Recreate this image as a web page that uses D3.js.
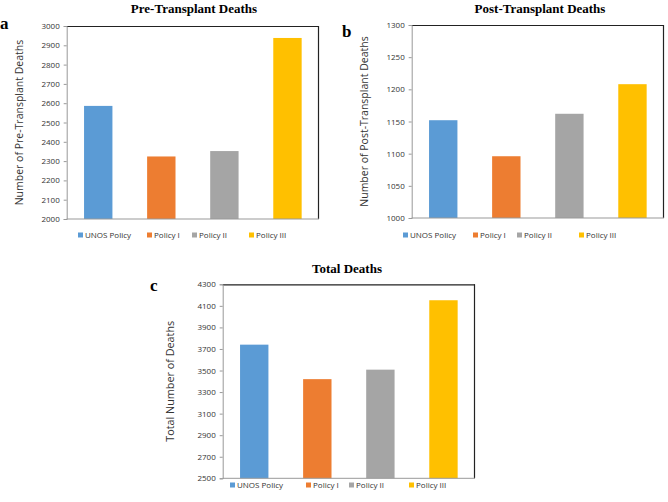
<!DOCTYPE html>
<html><head><meta charset="utf-8">
<script src="https://cdn.jsdelivr.net/npm/d3@7"></script>
<style>body{margin:0;background:#fff}svg{display:block}</style>
</head><body>
<script>
const categories = ["UNOS Policy", "Policy I", "Policy II", "Policy III"];
const colors = ["#5B9BD5", "#ED7D31", "#A5A5A5", "#FFC000"];
const preValues = [2586, 2324, 2352, 2938];
const postValues = [1152, 1096, 1162, 1208];
const totalValues = [3740, 3420, 3508, 4152];
const preTicks = [2000,2100,2200,2300,2400,2500,2600,2700,2800,2900,3000];
const postTicks = [1000,1050,1100,1150,1200,1250,1300];
const totalTicks = [2500,2700,2900,3100,3300,3500,3700,3900,4100,4300];

const svg = d3.select("body").append("svg").attr("width",668).attr("height",502);

const panels = [
  {letter:"a", title:"Pre-Transplant Deaths", ytitle:"Number of Pre-Transplant Deaths", values:preValues, ticks:preTicks,
   x0:66.7, x1:319, y0:26, y1:219, titleX:194, titleY:13, letterX:0, letterY:29, ytX:23, ytSize:10.5, legendY:238, legendX:[78,147,192,249]},
  {letter:"b", title:"Post-Transplant Deaths", ytitle:"Number of Post-Transplant Deaths", values:postValues, ticks:postTicks,
   x0:411.7, x1:664, y0:25, y1:218, titleX:540, titleY:13, letterX:342, letterY:37, ytX:368, ytSize:10.5, legendY:238, legendX:[403,473,517,579]},
  {letter:"c", title:"Total Deaths", ytitle:"Total Number of Deaths", values:totalValues, ticks:totalTicks,
   x0:222.7, x1:475, y0:284.3, y1:478.3, titleX:347, titleY:273, letterX:150, letterY:291, ytX:174, ytSize:10.8, legendY:488, legendX:[230,306,349,409]}
];

panels.forEach(p => {
  const g = svg.append("g");
  const x = d3.scaleBand().domain(categories).range([p.x0, p.x1]).paddingInner(0.55).paddingOuter(0.275);
  const y = d3.scaleLinear().domain([p.ticks[0], p.ticks[p.ticks.length-1]]).range([p.y1, p.y0]);

  g.selectAll("rect.bar").data(categories).join("rect").attr("class","bar")
    .attr("x", d => x(d)).attr("width", x.bandwidth())
    .attr("y", (d,i) => y(p.values[i])).attr("height", (d,i) => p.y1 - y(p.values[i]))
    .attr("fill", (d,i) => colors[i]);

  g.append("line").attr("x1",p.x0).attr("x2",p.x1).attr("y1",p.y0+0.5).attr("y2",p.y0+0.5).attr("stroke","#222").attr("stroke-width",1.2);
  g.append("line").attr("x1",p.x1-0.5).attr("x2",p.x1-0.5).attr("y1",p.y0).attr("y2",p.y1).attr("stroke","#222").attr("stroke-width",1.2);

  const ax = g.append("g").attr("transform",`translate(${p.x0},0)`)
    .call(d3.axisLeft(y).tickValues(p.ticks).tickSize(3).tickPadding(4).tickFormat(d3.format("d")));
  ax.select(".domain").attr("stroke","#999");
  ax.selectAll(".tick line").attr("stroke","#999");
  ax.selectAll("text").attr("font-family","'Open Sans', sans-serif").attr("font-size",8).attr("fill","#333");

  g.append("line").attr("x1",p.x0).attr("x2",p.x1).attr("y1",p.y1).attr("y2",p.y1).attr("stroke","#999");

  g.append("text").attr("x",p.titleX).attr("y",p.titleY).attr("text-anchor","middle")
    .attr("font-family","'Liberation Serif', serif").attr("font-weight","bold").attr("font-size",13).text(p.title);
  g.append("text").attr("x",p.letterX).attr("y",p.letterY)
    .attr("font-family","'Liberation Serif', serif").attr("font-weight","bold").attr("font-size",17).text(p.letter);
  g.append("text").attr("transform",`translate(${p.ytX},${(p.y0+p.y1)/2}) rotate(-90)`).attr("text-anchor","middle")
    .attr("font-family","'Open Sans', sans-serif").attr("font-size",p.ytSize).attr("fill","#333").text(p.ytitle);

  const lg = g.selectAll("g.leg").data(categories).join("g").attr("class","leg")
    .attr("transform",(d,i)=>`translate(${p.legendX[i]},${p.legendY})`);
  lg.append("rect").attr("x",0).attr("y",-5.5).attr("width",5).attr("height",5).attr("fill",(d,i)=>colors[i]);
  lg.append("text").attr("x",7).attr("y",0).attr("font-family","'Open Sans', sans-serif").attr("font-size",8).attr("fill","#333").text(d=>d);
});
</script>
</body></html>
